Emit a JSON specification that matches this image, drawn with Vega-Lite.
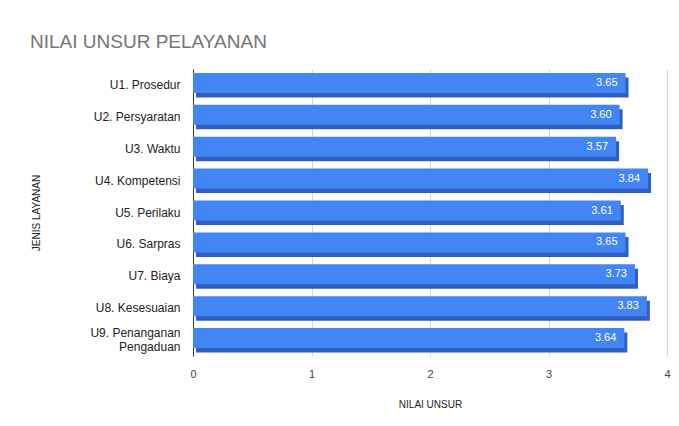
{
  "$schema": "https://vega.github.io/schema/vega-lite/v6.json",
  "width": 474,
  "height": 287,
  "autosize": "none",
  "padding": {"left": 193, "top": 69, "right": 12, "bottom": 70},
  "background": "white",
  "title": {
    "text": "NILAI UNSUR PELAYANAN",
    "anchor": "start",
    "frame": "group",
    "dx": -163,
    "offset": 17,
    "font": "Liberation Sans",
    "fontSize": 19,
    "fontWeight": "normal",
    "color": "#757575"
  },
  "data": {
    "values": [
      {"unsur": "U1. Prosedur", "nilai": 3.65},
      {"unsur": "U2. Persyaratan", "nilai": 3.60},
      {"unsur": "U3. Waktu", "nilai": 3.57},
      {"unsur": "U4. Kompetensi", "nilai": 3.84},
      {"unsur": "U5. Perilaku", "nilai": 3.61},
      {"unsur": "U6. Sarpras", "nilai": 3.65},
      {"unsur": "U7. Biaya", "nilai": 3.73},
      {"unsur": "U8. Kesesuaian", "nilai": 3.83},
      {"unsur": "U9. Penanganan Pengaduan", "nilai": 3.64}
    ]
  },
  "encoding": {
    "y": {
      "field": "unsur",
      "type": "nominal",
      "sort": null,
      "scale": {"paddingInner": 0.2, "paddingOuter": 0.1},
      "axis": {
        "title": "JENIS LAYANAN",
        "titleFont": "Liberation Sans",
        "titleFontSize": 10,
        "titleFontWeight": "normal",
        "titleColor": "#222222",
        "titlePadding": 48,
        "labelFont": "Liberation Sans",
        "labelFontSize": 12,
        "labelColor": "#222222",
        "labelPadding": 13,
        "ticks": false,
        "domain": false,
        "labelExpr": "datum.label == 'U9. Penanganan Pengaduan' ? ['U9. Penanganan', 'Pengaduan'] : datum.label",
        "labelLineHeight": 14,
        "labelOffset": {"condition": {"test": "datum.value == 'U9. Penanganan Pengaduan'", "value": -7}, "value": 0}
      }
    }
  },
  "layer": [
    {
      "mark": {"type": "bar", "height": 20, "yOffset": 2.5, "xOffset": 3, "color": "#2f5fc4"},
      "encoding": {
        "x": {
          "field": "nilai",
          "type": "quantitative",
          "scale": {"domain": [0, 4]},
          "axis": {
            "title": "NILAI UNSUR",
            "titleFont": "Liberation Sans",
            "titleFontSize": 10,
            "titleFontWeight": "normal",
            "titleColor": "#222222",
            "titlePadding": 20,
            "labelFont": "Liberation Sans",
            "labelFontSize": 11,
            "labelColor": "#444444",
            "labelPadding": 12,
            "labelFlush": false,
            "format": "d",
            "values": [0, 1, 2, 3, 4],
            "ticks": false,
            "domain": false,
            "grid": true,
            "gridColor": {"condition": {"test": "datum.value === 0", "value": "#333333"}, "value": "#d6d6d6"}
          }
        }
      }
    },
    {
      "mark": {"type": "bar", "height": 20, "yOffset": -2, "color": "#4285f4"},
      "encoding": {
        "x": {"field": "nilai", "type": "quantitative"}
      }
    },
    {
      "mark": {"type": "text", "align": "right", "baseline": "middle", "dx": -8, "yOffset": -2, "color": "white", "font": "Liberation Sans", "fontSize": 11},
      "encoding": {
        "x": {"field": "nilai", "type": "quantitative"},
        "text": {"field": "nilai", "type": "quantitative", "format": ".2f"}
      }
    }
  ],
  "config": {"view": {"stroke": null}}
}
